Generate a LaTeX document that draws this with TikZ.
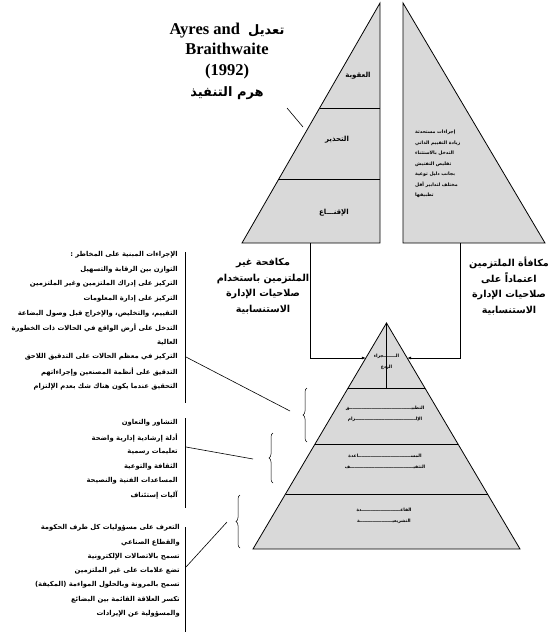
\documentclass[tikz,border=0pt]{standalone}
\usepackage{fontspec}
\setmainfont{Liberation Serif}
\newfontfamily\ar[Script=Arabic]{DejaVu Sans}
\TeXXeTstate=1
\usetikzlibrary{arrows.meta,decorations.pathreplacing}
\begin{document}
\begin{tikzpicture}[x=1pt,y=-1pt,
  pyr/.style={draw=black, line width=0.8pt, fill=black!15},
  divline/.style={line width=0.8pt},
  conn/.style={line width=0.6pt},
  barline/.style={line width=0.8pt},
  arrowline/.style={line width=0.6pt, -{Latex[length=4pt,width=3pt]}},
  brc/.style={line width=0.5pt, decorate, decoration={brace, amplitude=4pt}},
  listline/.style={font=\ar\bfseries\fontsize{6.8}{9}\selectfont, anchor=east, inner sep=0pt},
  label/.style={font=\ar\bfseries\fontsize{9.6}{15.5}\selectfont, align=center, inner sep=0pt},
  small/.style={font=\ar\bfseries\fontsize{7}{8}\selectfont, inner sep=0pt},
  tiny/.style={font=\ar\bfseries\fontsize{4.7}{10.5}\selectfont, inner sep=0pt, align=left},
  tinier/.style={font=\ar\bfseries\fontsize{4.5}{11}\selectfont, inner sep=0pt, align=center},
]
\useasboundingbox (0,0) rectangle (559,634);

% ---- upper left half pyramid
\draw[pyr] (380,3) coordinate (LA) -- (380,243) coordinate (LB) -- (242,243) coordinate (LC) -- cycle;
\draw[divline] (319.6,108) -- (380,108);
\draw[divline] (278.8,179) -- (380,179);
\node[small] (l-punish) at (358,76) {\beginR العقوبة\endR};
\node[small] (l-warn) at (337,140) {\beginR التحذير\endR};
\node[small] (l-pers) at (334,213) {\beginR الإقنـــاع\endR};

% ---- upper right half pyramid
\draw[pyr] (403,3) coordinate (RA) -- (403,243) coordinate (RB) -- (545,243) coordinate (RC) -- cycle;
\node[tiny, anchor=west] (r-text) at (415,164) {\beginR إجراءات مستحدثة\endR\\\beginR زيادة التقييم الذاتي\endR\\\beginR التدخل بالاستثناء\endR\\\beginR تقليص التفتيش\endR\\\beginR بجانب دليل توعية\endR\\\beginR مختلف لتدابير أقل\endR\\\beginR تطبيقها\endR};

% ---- title
\node[font=\bfseries\fontsize{16.5}{20.7}\selectfont, align=center, inner sep=0pt] (title) at (227,61)
  {Ayres and\ \ {\ar\fontsize{13}{15}\selectfont\beginR تعديل\endR}\\Braithwaite\\(1992)\\{\ar\fontsize{13}{15}\selectfont\beginR هرم التنفيذ\endR}};
\coordinate (tp1) at (287,108);
\coordinate (tp2) at (303,127);
\draw[conn] (tp1) -- (tp2);

% ---- labels under half pyramids
\node[label] (lab-left) at (263,286) {\beginR مكافحة غير\endR\\\beginR الملتزمين باستخدام\endR\\\beginR صلاحيات الإدارة\endR\\\beginR الاستنسابية\endR};
\node[label] (lab-right) at (509,286) {\beginR مكافأة الملتزمين\endR\\\beginR اعتماداً على\endR\\\beginR صلاحيات الإدارة\endR\\\beginR الاستنسابية\endR};

% ---- lower pyramid
\draw[pyr] (386.5,323) coordinate (PA) -- (520,549) coordinate (PR) -- (253,549) coordinate (PL) -- cycle;
\draw[divline, line width=1pt] (348.1,388) -- (424.9,388);
\draw[divline, line width=1pt] (315,444) -- (458,444);
\draw[divline, line width=1pt] (285.5,494) -- (487.5,494);
\draw[conn] (PA) -- (386.5,388);
\node[tinier] (p-top) at (386.5,362) {\beginR الــــــــجزاء\endR\\\beginR الردع\endR};
\node[tinier] (p-2) at (385,414) {\beginR التطبيــــــــــــــــــــــــــــــــــــــــق\endR\\\beginR الإلـــــــــــــــــــــــــــــــــــــــزام\endR};
\node[tinier] (p-3) at (385,462) {\beginR المســــــــــــــــــــــــــــــــــاعدة\endR\\\beginR التثقيـــــــــــــــــــــــــــــــــــــــــف\endR};
\node[tinier] (p-4) at (384,516) {\beginR القاعـــــــــــــــــــــــــدة\endR\\\beginR التشريعيـــــــــــــــــــــة\endR};

% ---- arrows from half pyramids into lower pyramid
\coordinate (aL1) at (310,243);
\coordinate (aL2) at (310,358);
\coordinate (aL3) at (365.8,358);
\coordinate (aR1) at (460,243);
\coordinate (aR2) at (460,358);
\coordinate (aR3) at (407.2,358);
\draw[arrowline] (aL1) -- (aL2) -- (aL3);
\draw[arrowline] (aR1) -- (aR2) -- (aR3);

% ---- braces
\draw[brc] (307,442) -- (307,388) coordinate[midway] (bA);
\draw[brc] (273,483) -- (273,433) coordinate[midway] (bB);
\draw[brc] (240,548) -- (240,495) coordinate[midway] (bC);
\coordinate (bAe) at (290,411);
\coordinate (bBe) at (253,459);
\coordinate (bCe) at (227,522);

% ---- list 1
\coordinate (b1t) at (185,252);
\coordinate (b1b) at (185,403);
\draw[barline] (b1t) -- (b1b);
\foreach \t [count=\i] in {الإجراءات المبنية على المخاطر :,
  التوازن بين الرقابة والتسهيل,
  التركيز على إدراك الملتزمين وغير الملتزمين,
  التركيز على إدارة المعلومات,
  التقييم، والتخليص، والإخراج قبل وصول البضاعة,
  التدخل على أرض الواقع في الحالات ذات الخطورة,
  العالية,
  التركيز في معظم الحالات على التدقيق اللاحق,
  التدقيق على أنظمة المصنعين وإجراءاتهم,
  التحقيق عندما يكون هناك شك بعدم الإلتزام}
  \node[listline] (la\i) at (178,{255+14.6*(\i-1)}) {\beginR\t\endR};
\coordinate (c1s) at (186,357);
\draw[conn] (c1s) -- (bAe);

% ---- list 2
\coordinate (b2t) at (185,418);
\coordinate (b2b) at (185,508);
\draw[barline] (b2t) -- (b2b);
\foreach \t [count=\i] in {التشاور والتعاون,
  أدلة إرشادية إدارية واضحة,
  تعليمات رسمية,
  الثقافة والتوعية,
  المساعدات الفنية والنصيحة,
  آليات إستئناف}
  \node[listline] (lb\i) at (178,{423+14.5*(\i-1)}) {\beginR\t\endR};
\coordinate (c2s) at (186,447);
\draw[conn] (c2s) -- (bBe);

% ---- list 3
\coordinate (b3t) at (185,527);
\coordinate (b3b) at (185,632);
\draw[barline] (b3t) -- (b3b);
\foreach \t [count=\i] in {التعرف على مسؤوليات كل طرف الحكومة,
  والقطاع الصناعي,
  تسمح بالاتصالات الإلكترونية,
  تضع علامات على غير الملتزمين,
  تسمح بالمرونة وبالحلول المواءمة (المكيفة),
  تكسر العلاقة القائمة بين البضائع,
  والمسؤولية عن الإيرادات}
  \node[listline] (lc\i) at (180,{528+14.3*(\i-1)}) {\beginR\t\endR};
\coordinate (c3s) at (186,567);
\draw[conn] (c3s) -- (bCe);
\end{tikzpicture}
\end{document}
